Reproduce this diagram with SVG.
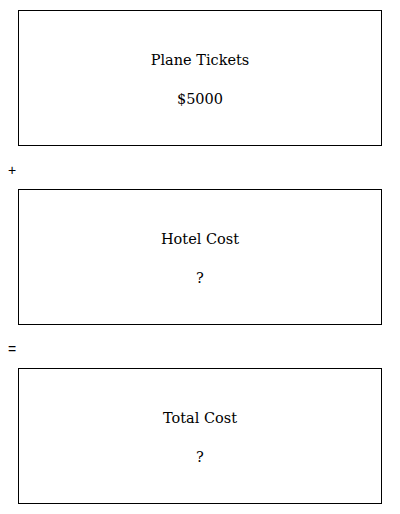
<svg xmlns="http://www.w3.org/2000/svg" width="400" height="514" viewBox="0 0 400 514">
<style>
.box{fill:#fff;stroke:#000;stroke-width:1}
.t{font-family:"DejaVu Serif","Liberation Serif",serif;font-size:14.5px;fill:#000;text-anchor:middle}
.op{font-family:"Liberation Sans",Arial,sans-serif;font-size:14px;fill:#000}
</style>
<rect width="400" height="514" fill="#fff"/>
<g id="plane">
<rect class="box" x="18.5" y="10.5" width="363" height="135"/>
<text class="t" x="200" y="65">Plane Tickets</text>
<text class="t" x="200" y="104">$5000</text>
</g>
<g id="hotel">
<rect class="box" x="18.5" y="189.5" width="363" height="135"/>
<text class="t" x="200" y="244">Hotel Cost</text>
<text class="t" x="200" y="283">?</text>
</g>
<g id="total">
<rect class="box" x="18.5" y="368.5" width="363" height="135"/>
<text class="t" x="200" y="423">Total Cost</text>
<text class="t" x="200" y="462">?</text>
</g>
<g id="connectors">
<text class="op" x="8" y="175">+</text>
<text class="op" x="8" y="354">=</text>
</g>
</svg>
